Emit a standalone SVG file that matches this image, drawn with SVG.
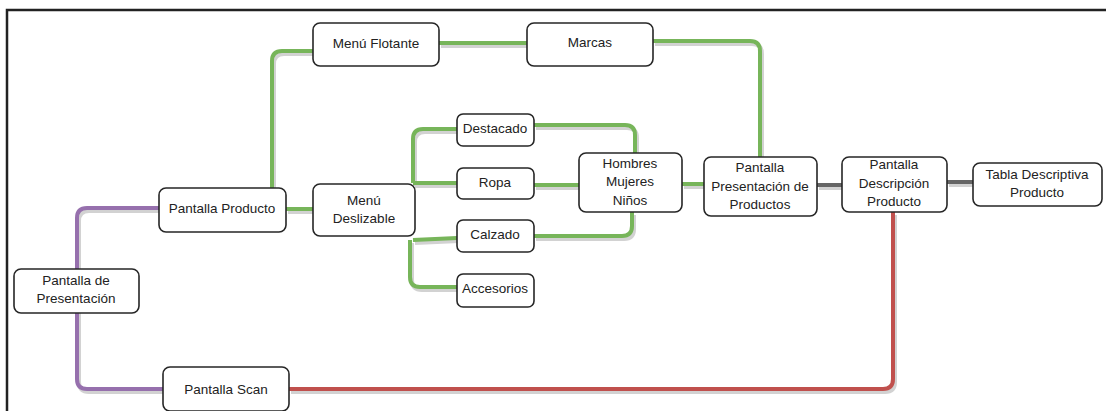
<svg xmlns="http://www.w3.org/2000/svg" width="1106" height="411" viewBox="0 0 1106 411">
  <style>
    .frame { fill: none; stroke: #222; stroke-width: 2.5; }
    .node rect { fill: #fff; stroke: #262626; stroke-width: 1.6; }
    .node text { font-family: "Liberation Sans", Arial, sans-serif; font-size: 13.5px; fill: #222; text-anchor: middle; }
    .wire { fill: none; stroke-width: 4; stroke-linecap: butt; stroke-linejoin: round; }
    .shadow { fill: none; stroke: #d2d2d2; stroke-width: 4; }
    .green { stroke: #77b55a; }
    .purple { stroke: #9670ad; }
    .red { stroke: #c0504d; }
    .gray { stroke: #666; }
  </style>
  <defs>
    <!-- connector routes, reused for the drop shadow and the coloured line -->
    <path id="w1" d="M272,188 V61 Q272,51 282,51 H313"/>
    <path id="w2" d="M439,43 H527"/>
    <path id="w3" d="M653,41 H750 Q760,41 760,51 V157"/>
    <path id="w4" d="M286,209 H313"/>
    <path id="w5" d="M413,183 V139 Q413,129 423,129 H457"/>
    <path id="w6" d="M413,183 H457"/>
    <path id="w7" d="M413,240 L457,238"/>
    <path id="w8" d="M410,240 V277 Q410,287 420,287 H457"/>
    <path id="w9" d="M534,125 H625 Q635,125 635,135 V153"/>
    <path id="w10" d="M534,185 H579"/>
    <path id="w11" d="M534,236 H622 Q632,236 632,226 V212"/>
    <path id="w12" d="M682,184 H704"/>
    <path id="w13" d="M817,185 H842"/>
    <path id="w14" d="M947,182 H973"/>
    <path id="w15" d="M159,208 H87 Q77,208 77,218 V379 Q77,389 87,389 H163"/>
    <path id="w16" d="M289,389 H883 Q893,389 893,379 V212"/>
  </defs>

  <rect class="frame" x="7" y="10" width="1110" height="410"/>

  <g id="connectors">
    <g class="shadow" transform="translate(2,3)">
      <use href="#w1"/><use href="#w2"/><use href="#w3"/><use href="#w4"/>
      <use href="#w5"/><use href="#w6"/><use href="#w7"/><use href="#w8"/>
      <use href="#w9"/><use href="#w10"/><use href="#w11"/><use href="#w12"/>
      <use href="#w13"/><use href="#w14"/><use href="#w15"/><use href="#w16"/>
    </g>
    <g class="wire green">
      <use href="#w1"/><use href="#w2"/><use href="#w3"/><use href="#w4"/>
      <use href="#w5"/><use href="#w6"/><use href="#w7"/><use href="#w8"/>
      <use href="#w9"/><use href="#w10"/><use href="#w11"/><use href="#w12"/>
    </g>
    <g class="wire gray">
      <use href="#w13"/><use href="#w14"/>
    </g>
    <g class="wire purple"><use href="#w15"/></g>
    <g class="wire red"><use href="#w16"/></g>
  </g>

  <g id="menu-flotante" class="node">
    <rect x="313" y="23" width="126" height="43" rx="7"/>
    <text x="376" y="48">Menú Flotante</text>
  </g>
  <g id="marcas" class="node">
    <rect x="527" y="23" width="126" height="43" rx="7"/>
    <text x="590" y="47">Marcas</text>
  </g>
  <g id="pantalla-producto" class="node">
    <rect x="159" y="188" width="127" height="44" rx="7"/>
    <text x="222" y="213">Pantalla Producto</text>
  </g>
  <g id="menu-deslizable" class="node">
    <rect x="313" y="184" width="102" height="52" rx="7"/>
    <text x="364" y="205">Menú</text>
    <text x="364" y="223">Deslizable</text>
  </g>
  <g id="pantalla-de-presentacion" class="node">
    <rect x="14" y="269" width="125" height="44" rx="7"/>
    <text x="76" y="285">Pantalla de</text>
    <text x="76" y="303">Presentación</text>
  </g>
  <g id="pantalla-scan" class="node">
    <rect x="163" y="367" width="126" height="44" rx="7"/>
    <text x="226" y="394">Pantalla Scan</text>
  </g>
  <g id="destacado" class="node">
    <rect x="457" y="114" width="77" height="32" rx="6"/>
    <text x="495" y="133">Destacado</text>
  </g>
  <g id="ropa" class="node">
    <rect x="457" y="168" width="77" height="31" rx="6"/>
    <text x="495" y="187">Ropa</text>
  </g>
  <g id="calzado" class="node">
    <rect x="457" y="220" width="77" height="32" rx="6"/>
    <text x="495" y="239">Calzado</text>
  </g>
  <g id="accesorios" class="node">
    <rect x="457" y="274" width="77" height="33" rx="6"/>
    <text x="495" y="293">Accesorios</text>
  </g>
  <g id="hombres-mujeres-ninos" class="node">
    <rect x="579" y="153" width="103" height="59" rx="7"/>
    <text x="630" y="168">Hombres</text>
    <text x="630" y="186">Mujeres</text>
    <text x="630" y="205">Niños</text>
  </g>
  <g id="pantalla-presentacion-productos" class="node">
    <rect x="704" y="157" width="113" height="59" rx="7"/>
    <text x="760" y="172">Pantalla</text>
    <text x="760" y="191">Presentación de</text>
    <text x="760" y="209">Productos</text>
  </g>
  <g id="pantalla-descripcion-producto" class="node">
    <rect x="842" y="157" width="105" height="55" rx="7"/>
    <text x="894" y="169">Pantalla</text>
    <text x="894" y="188">Descripción</text>
    <text x="894" y="206">Producto</text>
  </g>
  <g id="tabla-descriptiva-producto" class="node">
    <rect x="973" y="163" width="129" height="43" rx="7"/>
    <text x="1037" y="179">Tabla Descriptiva</text>
    <text x="1037" y="197">Producto</text>
  </g>
</svg>
